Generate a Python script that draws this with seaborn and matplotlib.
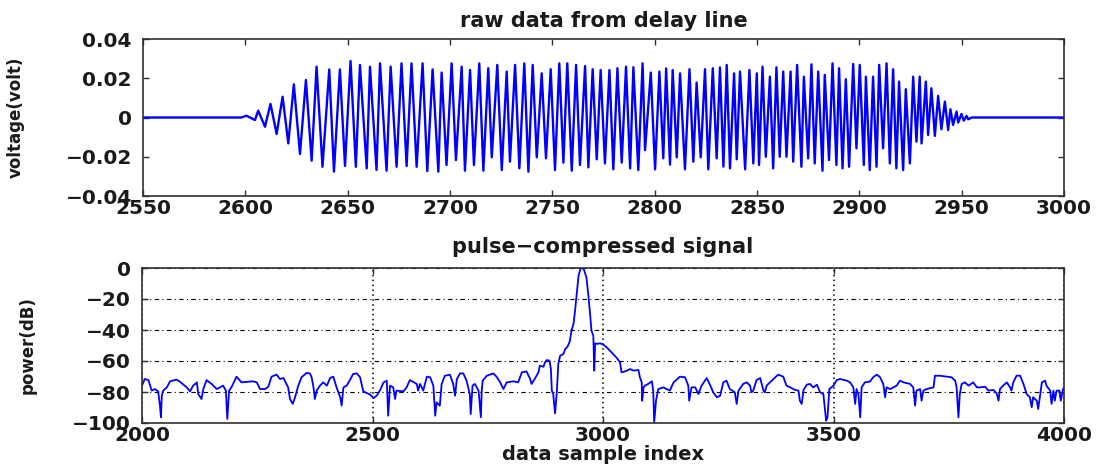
import numpy as np
import pandas as pd
import matplotlib
matplotlib.use("Agg")
import matplotlib.pyplot as plt
import seaborn as sns

# ---------------- data: raw delay-line samples (extrema) ----------------
quiet_idx = [2550, 2598, 2955, 3000]
quiet_val = [0.0, 0.0, 0.0, 0.0]

peak_idx = [2600.6, 2606.3, 2612.3, 2618.2, 2623.7, 2629.6, 2634.8, 2641.0, 2646.2, 2651.4,
            2656.0, 2660.9, 2665.8, 2671.0, 2676.3, 2681.2, 2686.6, 2691.5, 2695.9, 2700.8,
            2705.7, 2709.8, 2714.3, 2718.7, 2723.1, 2727.7, 2731.8, 2736.3, 2740.4, 2744.8,
            2749.2, 2753.4, 2757.3, 2761.6, 2766.0, 2769.7, 2773.6, 2777.9, 2781.8, 2786.0,
            2789.6, 2794.1, 2798.1, 2802.3, 2805.6, 2808.8, 2812.4, 2817.0, 2820.5, 2824.6,
            2828.4, 2831.9, 2835.2, 2838.8, 2841.7, 2846.3, 2849.9, 2852.7, 2856.3, 2859.5,
            2862.8, 2866.4, 2869.6, 2872.9, 2876.6, 2879.9, 2883.1, 2886.9, 2890.1, 2893.4,
            2897.0, 2900.2, 2903.2, 2906.7, 2909.7, 2913.3, 2916.5, 2919.4, 2922.7, 2926.3,
            2929.5, 2932.5, 2935.2, 2938.5, 2941.8, 2944.5, 2947.5, 2949.9, 2952.4]
peak_val = [0.0009, 0.0035, 0.0069, 0.0106, 0.0169, 0.0191, 0.0259, 0.0245, 0.0245, 0.0288,
            0.0268, 0.0259, 0.0276, 0.0259, 0.0276, 0.0276, 0.0276, 0.0245, 0.0229, 0.0276,
            0.0259, 0.0242, 0.0276, 0.0251, 0.0268, 0.0234, 0.0268, 0.0276, 0.0268, 0.0225,
            0.0246, 0.0276, 0.0276, 0.0268, 0.0262, 0.0246, 0.0242, 0.0242, 0.0251, 0.0259,
            0.0256, 0.0276, 0.0229, 0.0234, 0.0250, 0.0242, 0.0225, 0.0246, 0.0178, 0.0246,
            0.0251, 0.0255, 0.0268, 0.0225, 0.0234, 0.0242, 0.0225, 0.0259, 0.0208, 0.0256,
            0.0234, 0.0234, 0.0268, 0.0208, 0.0271, 0.0234, 0.0217, 0.0276, 0.0251, 0.0195,
            0.0273, 0.0268, 0.0208, 0.0208, 0.0268, 0.0276, 0.0246, 0.0183, 0.0144, 0.0208,
            0.0208, 0.0183, 0.0149, 0.0110, 0.0081, 0.0042, 0.0030, 0.0018, 0.0008]

trough_idx = [2604.7, 2609.6, 2615.3, 2621.0, 2626.7, 2632.4, 2637.7, 2643.3, 2648.7, 2654.0,
              2659.3, 2664.1, 2669.0, 2673.9, 2678.8, 2683.7, 2688.9, 2694.3, 2698.3, 2702.9,
              2707.3, 2711.7, 2716.3, 2720.4, 2725.3, 2729.3, 2733.9, 2738.3, 2742.4, 2746.9,
              2751.3, 2755.4, 2759.5, 2763.5, 2767.6, 2771.7, 2775.7, 2779.8, 2783.9, 2788.0,
              2792.0, 2795.3, 2800.2, 2804.2, 2807.5, 2810.8, 2814.8, 2818.9, 2822.5, 2826.2,
              2830.3, 2833.6, 2836.8, 2840.1, 2844.2, 2848.2, 2851.0, 2854.3, 2857.9, 2861.1,
              2864.4, 2867.7, 2871.7, 2875.0, 2878.2, 2882.0, 2885.2, 2888.8, 2891.8, 2895.0,
              2898.6, 2902.2, 2905.1, 2908.4, 2911.6, 2914.9, 2918.1, 2921.4, 2924.7, 2927.9,
              2930.4, 2933.6, 2936.9, 2940.1, 2943.4, 2945.8, 2948.3, 2951.0, 2953.2]
trough_val = [-0.0013, -0.0047, -0.0084, -0.0132, -0.0186, -0.0220, -0.0251, -0.0276, -0.0247, -0.0251,
              -0.0259, -0.0267, -0.0271, -0.0251, -0.0247, -0.0251, -0.0273, -0.0276, -0.0242, -0.0217,
              -0.0271, -0.0242, -0.0271, -0.0203, -0.0268, -0.0225, -0.0259, -0.0276, -0.0203, -0.0208,
              -0.0268, -0.0230, -0.0271, -0.0242, -0.0254, -0.0213, -0.0234, -0.0264, -0.0230, -0.0259,
              -0.0268, -0.0166, -0.0264, -0.0208, -0.0240, -0.0203, -0.0264, -0.0225, -0.0203, -0.0264,
              -0.0208, -0.0250, -0.0259, -0.0213, -0.0264, -0.0234, -0.0242, -0.0200, -0.0259, -0.0200,
              -0.0200, -0.0225, -0.0251, -0.0208, -0.0234, -0.0271, -0.0217, -0.0242, -0.0259, -0.0251,
              -0.0157, -0.0242, -0.0268, -0.0251, -0.0157, -0.0234, -0.0259, -0.0268, -0.0234, -0.0123,
              -0.0132, -0.0089, -0.0094, -0.0060, -0.0064, -0.0038, -0.0026, -0.0016, -0.0009]

# ---------------- data: pulse-compressed power (dB) ----------------
comp_idx = [2000, 2006, 2014, 2021, 2028, 2035, 2039, 2041, 2043, 2046, 2054, 2061, 2075, 2082, 2097,
            2104, 2111, 2119, 2122, 2129, 2133, 2140, 2151, 2162, 2176, 2182, 2185, 2189, 2194, 2205,
            2216, 2241, 2249, 2256, 2267, 2274, 2281, 2292, 2299, 2307, 2317, 2321, 2327, 2332, 2339,
            2346, 2357, 2364, 2368, 2372, 2375, 2379, 2386, 2393, 2401, 2408, 2415, 2422, 2430, 2433,
            2437, 2444, 2451, 2458, 2466, 2473, 2480, 2495, 2502, 2509, 2516, 2524, 2531, 2534, 2538,
            2545, 2549, 2552, 2567, 2574, 2581, 2596, 2599, 2603, 2610, 2618, 2625, 2632, 2636, 2639,
            2646, 2650, 2657, 2668, 2675, 2679, 2683, 2690, 2697, 2704, 2711, 2713, 2717, 2722, 2726,
            2730, 2732, 2735, 2737, 2739, 2748, 2762, 2769, 2777, 2784, 2791, 2806, 2816, 2824, 2834,
            2842, 2845, 2853, 2860, 2863, 2871, 2874, 2878, 2884, 2887, 2889, 2892, 2896, 2900, 2903,
            2907, 2914, 2918, 2923, 2928, 2932, 2936, 2939, 2943, 2947, 2951, 2954, 2958, 2964, 2968,
            2972, 2975, 2979, 2981, 2983, 2986, 2994, 3001, 3008, 3015, 3022, 3030, 3037, 3040, 3048,
            3059, 3066, 3077, 3080, 3084, 3085, 3088, 3091, 3098, 3106, 3109, 3111, 3115, 3120, 3131,
            3138, 3145, 3153, 3167, 3178, 3185, 3187, 3192, 3200, 3207, 3214, 3221, 3225, 3232, 3239,
            3247, 3254, 3261, 3268, 3275, 3286, 3290, 3294, 3304, 3312, 3319, 3322, 3326, 3333, 3341,
            3348, 3351, 3355, 3362, 3370, 3380, 3391, 3398, 3406, 3417, 3424, 3427, 3431, 3435, 3442,
            3449, 3456, 3464, 3471, 3478, 3484, 3487, 3491, 3500, 3507, 3514, 3529, 3536, 3543, 3547,
            3550, 3554, 3558, 3561, 3568, 3579, 3586, 3594, 3601, 3608, 3612, 3615, 3623, 3630, 3637,
            3644, 3652, 3666, 3673, 3677, 3680, 3688, 3691, 3695, 3702, 3717, 3720, 3731, 3746, 3756,
            3764, 3767, 3771, 3774, 3778, 3785, 3793, 3803, 3811, 3818, 3829, 3836, 3847, 3854, 3858,
            3861, 3868, 3876, 3883, 3886, 3890, 3897, 3905, 3912, 3919, 3926, 3930, 3933, 3941, 3944,
            3952, 3959, 3962, 3970, 3973, 3977, 3980, 3984, 3990, 3993, 3998, 4000]
comp_db = [-75.9, -71.6, -72.3, -79.1, -78.1, -79.6, -88.8, -96.3, -82.4, -79.1, -77.0, -73.1, -72.0, -73.3, -77.0,
           -79.6, -75.9, -73.8, -81.3, -84.5, -78.1, -72.3, -74.8, -78.1, -75.9, -79.1, -97.4, -79.1, -77.0, -70.1,
           -73.8, -73.1, -73.8, -78.1, -78.1, -76.6, -70.1, -68.8, -71.6, -71.0, -77.0, -84.5, -87.7, -83.4, -75.9,
           -70.5, -67.7, -68.0, -70.5, -77.0, -84.5, -79.1, -75.9, -73.8, -75.9, -71.0, -70.1, -77.0, -83.4, -88.8,
           -77.0, -75.9, -72.3, -68.4, -68.0, -70.5, -79.6, -81.7, -83.9, -82.4, -79.1, -73.8, -72.7, -95.3, -75.9,
           -77.0, -84.5, -79.1, -79.6, -77.0, -72.3, -74.8, -79.1, -74.8, -79.1, -70.1, -70.5, -75.9, -95.3, -86.7,
           -88.8, -74.8, -69.5, -68.8, -74.8, -82.4, -71.6, -68.0, -68.0, -72.7, -81.3, -94.2, -75.9, -74.8, -77.0,
           -79.1, -85.6, -96.3, -79.1, -72.7, -69.5, -68.0, -70.1, -73.8, -78.1, -73.8, -73.1, -73.8, -67.3, -66.7,
           -71.6, -74.8, -71.0, -67.3, -63.0, -63.7, -60.9, -59.4, -59.8, -65.2, -79.1, -81.3, -93.8, -79.1, -61.9,
           -56.6, -55.5, -52.3, -50.8, -47.3, -40.0, -36.1, -28.6, -16.8, -4.9, -0.6, 0.0, -0.5, -6.0, -16.8,
           -29.7, -40.4, -43.7, -66.2, -48.6, -49.0, -48.6, -49.5, -51.2, -53.3, -55.5, -58.1, -60.9, -67.3, -66.7,
           -65.2, -66.2, -65.8, -70.5, -73.8, -85.6, -77.0, -75.9, -74.8, -73.1, -79.1, -99.6, -85.6, -78.1, -77.0,
           -78.1, -79.1, -73.8, -70.1, -70.5, -75.9, -85.6, -77.0, -77.0, -81.3, -75.9, -72.7, -71.0, -75.3, -80.2,
           -83.4, -82.4, -73.8, -72.7, -78.1, -80.2, -87.7, -79.1, -74.8, -73.8, -75.9, -80.2, -79.1, -72.3, -71.0,
           -79.1, -80.2, -75.9, -73.8, -71.6, -68.8, -70.1, -75.9, -77.0, -78.7, -79.1, -85.6, -87.7, -78.7, -75.3,
           -74.8, -77.0, -75.3, -80.2, -81.3, -98.5, -96.3, -78.1, -75.9, -72.3, -71.6, -72.7, -73.8, -77.0, -87.7,
           -78.1, -81.3, -96.3, -77.0, -73.8, -73.3, -70.5, -68.8, -70.5, -74.8, -83.4, -77.0, -78.1, -77.0, -75.9,
           -72.7, -73.8, -74.8, -77.0, -88.8, -79.1, -78.1, -85.6, -79.1, -78.1, -77.0, -69.5, -69.5, -70.1, -70.5,
           -72.7, -77.0, -96.3, -81.3, -74.8, -73.8, -75.9, -73.8, -77.0, -77.0, -76.6, -79.1, -78.7, -80.9, -85.6,
           -78.1, -75.9, -73.8, -77.0, -79.1, -73.8, -69.5, -69.5, -74.8, -81.3, -83.4, -89.9, -83.4, -85.6, -91.0,
           -73.8, -72.7, -75.9, -79.1, -87.7, -79.1, -85.6, -79.1, -79.1, -85.6, -78.1, -77.0]

# ---------------- ticks / labels ----------------
top_xticks = [2550, 2600, 2650, 2700, 2750, 2800, 2850, 2900, 2950, 3000]
top_yticks = [-0.04, -0.02, 0.0, 0.02, 0.04]
top_ylabels = ["\u22120.04", "\u22120.02", "0", "0.02", "0.04"]
bot_xticks = [2000, 2500, 3000, 3500, 4000]
bot_yticks = [-100, -80, -60, -40, -20, 0]
bot_ylabels = ["\u2212100", "\u221280", "\u221260", "\u221240", "\u221220", "0"]

title_top = "raw data from delay line"
title_bot = "pulse\u2212compressed signal"
ylabel_top = "voltage(volt)"
ylabel_bot = "power(dB)"
xlabel_bot = "data sample index"

# ---------------- style ----------------
sns.set_theme(style="white")
plt.rcParams["font.family"] = ["DejaVu Sans"]
plt.rcParams["axes.unicode_minus"] = True

W, H = 1110, 468
fig = plt.figure(figsize=(W / 100, H / 100), dpi=100)
fig.patch.set_facecolor("white")

def px_axes(l, t, r, b):
    return fig.add_axes([l / W, 1 - b / H, (r - l) / W, (b - t) / H])

ax1 = px_axes(143, 39, 1064, 196)
ax2 = px_axes(142, 268, 1064, 423)

BLUE = "#0000ff"
TICKFS = 14.5
TITLEFS = 15
LABELFS = 12
TXT = "#1a1a1a"

# top panel
raw = pd.DataFrame({
    "idx": list(quiet_idx) + list(peak_idx) + list(trough_idx),
    "v": list(quiet_val) + list(peak_val) + list(trough_val),
}).sort_values("idx")
sns.lineplot(data=raw, x="idx", y="v", ax=ax1, color=BLUE, lw=1.7,
             estimator=None, sort=True)

# bottom panel
comp = pd.DataFrame({"idx": comp_idx, "db": comp_db})
sns.lineplot(data=comp, x="idx", y="db", ax=ax2, color=BLUE, lw=1.3,
             estimator=None, sort=True)

for ax in (ax1, ax2):
    ax.set_facecolor("white")
    for s in ax.spines.values():
        s.set_visible(True)
        s.set_color("#303030")
        s.set_linewidth(1.2)
    ax.tick_params(direction="in", length=4, width=1.0, color="#303030",
                   top=True, right=True, bottom=True, left=True,
                   labelsize=TICKFS, labelcolor=TXT)
    ax.tick_params(axis="x", pad=2)
    ax.tick_params(axis="y", pad=8)

ax1.set_xlim(2550, 3000)
ax1.set_ylim(-0.04, 0.04)
ax1.set_xticks(top_xticks)
ax1.set_xticklabels([str(t) for t in top_xticks], fontweight="bold", fontsize=TICKFS)
ax1.set_yticks(top_yticks)
ax1.set_yticklabels(top_ylabels, fontweight="bold", fontsize=TICKFS)
ax1.set_title(title_top, fontsize=TITLEFS, fontweight="bold", color=TXT, pad=9)
ax1.set_xlabel("")
ax1.set_ylabel(ylabel_top, fontsize=LABELFS, fontweight="bold", color=TXT)
ax1.yaxis.set_label_coords((25 - 143) / 921, 0.5)

ax2.set_xlim(2000, 4000)
ax2.set_ylim(-100, 0)
ax2.set_xticks(bot_xticks)
ax2.set_xticklabels([str(t) for t in bot_xticks], fontweight="bold", fontsize=TICKFS)
ax2.set_yticks(bot_yticks)
ax2.set_yticklabels(bot_ylabels, fontweight="bold", fontsize=TICKFS)
ax2.set_title(title_bot, fontsize=TITLEFS, fontweight="bold", color=TXT, pad=11)
ax2.set_xlabel(xlabel_bot, fontsize=14, fontweight="bold", color=TXT, labelpad=0)
ax2.set_ylabel(ylabel_bot, fontsize=LABELFS, fontweight="bold", color=TXT)
ax2.yaxis.set_label_coords((37 - 142) / 922, 0.5)

# grid on the lower panel (MATLAB-like)
ax2.xaxis.grid(True, color="black", linestyle=(0, (1, 2.2)), linewidth=1.1)
ax2.yaxis.grid(True, color="black", linestyle=(0, (4, 3, 1, 3)), linewidth=0.8)
for gl in ax2.get_xgridlines() + ax2.get_ygridlines():
    gl.set_zorder(0.5)

fig.savefig("out.png", dpi=100, facecolor="white")
